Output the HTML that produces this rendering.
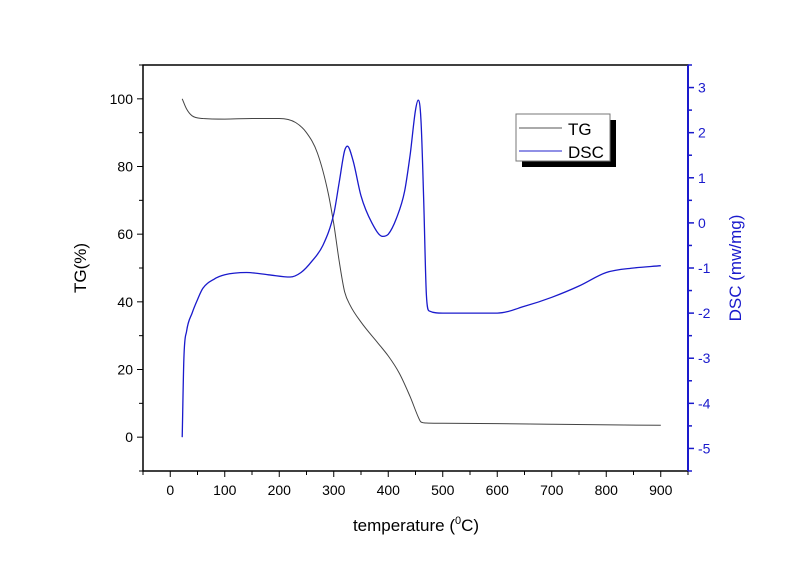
<!DOCTYPE html>
<html><head><meta charset="utf-8"><style>
body{margin:0;background:#fff}
svg{display:block;font-family:"Liberation Sans",Arial,sans-serif}
</style></head><body>
<svg id="chart" width="800" height="565" viewBox="0 0 800 565">
<g id="axes"></g>
<g id="series"></g>
<g>
<rect x="522" y="120" width="94" height="47" fill="#000"/>
<rect x="516" y="114" width="94" height="47" fill="#fff" stroke="#777" stroke-width="1"/>
<line x1="519" y1="128" x2="562" y2="128" stroke="#555"/>
<text x="568" y="135" font-size="17">TG</text>
<line x1="519" y1="151" x2="562" y2="151" stroke="#2222cc"/>
<text x="568" y="158" font-size="17">DSC</text>
</g>
<text x="416" y="531" font-size="17" text-anchor="middle">temperature (<tspan dy="-7" font-size="11">0</tspan><tspan dy="7">C)</tspan></text>
<text transform="translate(86,268) rotate(-90)" font-size="17" text-anchor="middle">TG(%)</text>
<text transform="translate(741,268) rotate(-90)" font-size="17" text-anchor="middle" fill="#1a1acc">DSC (mw/mg)</text>
</svg>
<script>
const xTicks=[0,100,200,300,400,500,600,700,800,900];
const yLeftTicks=[0,20,40,60,80,100];
const yRightTicks=[-5,-4,-3,-2,-1,0,1,2,3];
const tgTemps=[22,30,40,60,100,150,200,230,250,270,290,300,310,320,330,350,380,400,420,440,455,460,470,500,600,700,900];
const tgValues=[100,97,95,94.2,94,94.2,94.2,93,90,84,72,63,52,43,39,34,28,24,19,12,6,4.5,4.2,4.1,4,3.8,3.5];
const dscTemps=[22,25,30,40,50,60,80,100,140,180,220,240,260,280,300,310,320,325,335,350,370,390,400,415,430,440,450,455,460,465,470,475,500,600,650,700,750,800,850,900];
const dscValues=[-4.75,-3,-2.4,-2.0,-1.7,-1.45,-1.25,-1.15,-1.1,-1.15,-1.2,-1.1,-0.85,-0.5,0.2,0.9,1.6,1.7,1.4,0.6,0.0,-0.3,-0.25,0.1,0.7,1.5,2.5,2.72,2.3,0.5,-1.6,-1.95,-2.0,-2.0,-1.85,-1.65,-1.4,-1.1,-1.0,-0.95];
const L=143,R=688,T=65,B=471;
const X=v=>L+(v+50)/1000*(R-L);
const YL=v=>B-(v+10)/120*(B-T);
const YR=v=>B-(v+5.5)/9*(B-T);
const NS='http://www.w3.org/2000/svg';
const axes=document.getElementById('axes'),series=document.getElementById('series');
function mk(tag,attrs,parent){const e=document.createElementNS(NS,tag);for(const k in attrs)e.setAttribute(k,attrs[k]);parent.appendChild(e);return e;}
const frame=mk('rect',{x:L,y:T,width:R-L,height:B-T,fill:'none',stroke:'#000','stroke-width':1.5},axes);


const rax=mk('line',{x1:R,y1:T,x2:R,y2:B,stroke:'#1a1acc','stroke-width':2},axes);


for(let v=-50;v<=950;v+=50){const x=X(v);const maj=v%100===0;
 const t=mk('line',{x1:x,y1:B,x2:x,y2:B+(maj?6:4),stroke:'#000','stroke-width':1},axes);
 
 }
xTicks.forEach(v=>{const t=mk('text',{x:X(v),y:B+24,'font-size':14,'text-anchor':'middle'},axes);t.textContent=v;
 
 });
for(let v=-10;v<=110;v+=10){const y=YL(v);const maj=v%20===0;
 const t=mk('line',{x1:L,y1:y,x2:L-(maj?6:4),y2:y,stroke:'#000','stroke-width':1},axes);
 
 }
yLeftTicks.forEach(v=>{const t=mk('text',{x:L-10,y:YL(v)+5,'font-size':14,'text-anchor':'end'},axes);t.textContent=v;
 
 });
for(let v=-5.5;v<=3.5;v+=0.5){const y=YR(v);const maj=Math.abs(v%1)<1e-9;
 const t=mk('line',{x1:R,y1:y,x2:R+(maj?6:4),y2:y,stroke:'#1a1acc','stroke-width':1.5},axes);
 
 }
yRightTicks.forEach(v=>{const t=mk('text',{x:R+10,y:YR(v)+5,'font-size':14,fill:'#1a1acc'},axes);t.textContent=v;
 
 });
// monotone cubic path
function path(xs,ys,fy){
 const px=xs.map(X),py=ys.map(fy),n=px.length;
 const d=[],m=new Array(n);
 for(let i=0;i<n-1;i++)d.push((py[i+1]-py[i])/(px[i+1]-px[i]));
 m[0]=d[0];m[n-1]=d[n-2];
 for(let i=1;i<n-1;i++){m[i]=(d[i-1]*d[i]<=0)?0:(d[i-1]+d[i])/2;}
 for(let i=0;i<n-1;i++){if(d[i]===0){m[i]=0;m[i+1]=0;continue;}
  const a=m[i]/d[i],b=m[i+1]/d[i],s=a*a+b*b;if(s>9){const t=3/Math.sqrt(s);m[i]=t*a*d[i];m[i+1]=t*b*d[i];}}
 let s='M'+px[0].toFixed(1)+','+py[0].toFixed(1);
 for(let i=0;i<n-1;i++){const h=(px[i+1]-px[i])/3;
  s+=' C'+(px[i]+h).toFixed(1)+','+(py[i]+m[i]*h).toFixed(1)+' '+(px[i+1]-h).toFixed(1)+','+(py[i+1]-m[i+1]*h).toFixed(1)+' '+px[i+1].toFixed(1)+','+py[i+1].toFixed(1);}
 return s;}
const tg=mk('path',{d:path(tgTemps,tgValues,YL),fill:'none',stroke:'#444','stroke-width':1,'stroke-linejoin':'round'},series);


const dsc=mk('path',{d:path(dscTemps,dscValues,YR),fill:'none',stroke:'#1a1acc','stroke-width':1.3,'stroke-linejoin':'round'},series);


</script>
</body></html>
